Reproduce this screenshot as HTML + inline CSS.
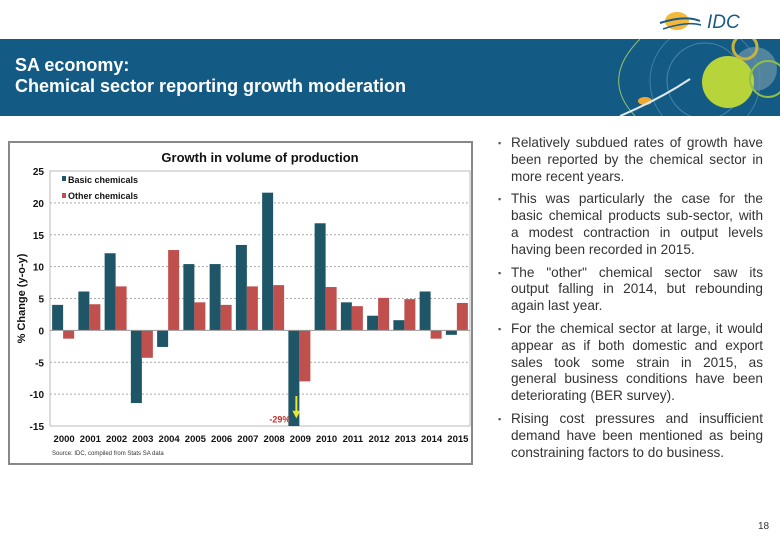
<!DOCTYPE html>
<html><head><meta charset="utf-8"><style>
body{margin:0;width:780px;height:540px;position:relative;background:#fff;font-family:"Liberation Sans",sans-serif;overflow:hidden}
#banner{position:absolute;left:0;top:39px;width:780px;height:77px;background:#135b84}
#title{position:absolute;left:15px;top:55px;color:#fff;font-weight:bold;font-size:18px;line-height:21px}
#bullets{position:absolute;left:494px;top:135px;width:269px;font-size:13.6px;line-height:16.8px;color:#333}
.b{position:relative;padding-left:17px;text-align:justify;margin-bottom:6px}
.b:before{content:"▪";position:absolute;left:4px;top:0;font-size:9px;color:#555}
#page{position:absolute;left:758px;top:521px;font-size:10px;color:#333}
</style></head><body>
<div id="banner">
<svg width="780" height="77">
<path d="M640 0 Q600 40 635 77" stroke="#8fc46b" stroke-width="1" fill="none"/>
<circle cx="705" cy="42" r="38" fill="none" stroke="#4d87a8" stroke-width="1"/>
<circle cx="705" cy="42" r="55" fill="none" stroke="#3e7fa2" stroke-width="1"/>
<circle cx="755" cy="30" r="22" fill="#6e95a8" opacity="0.7"/>
<circle cx="728" cy="43" r="26" fill="#b7d43b"/>
<circle cx="745" cy="8" r="12" fill="none" stroke="#c9b23a" stroke-width="3"/>
<circle cx="768" cy="40" r="18" fill="none" stroke="#8fbf4a" stroke-width="2"/>
<ellipse cx="645" cy="62" rx="7" ry="4" fill="#f0a830"/>
<path d="M620 77 Q660 60 690 40" stroke="#dfe9ef" stroke-width="2" fill="none"/>
</svg></div>
<div id="title">SA economy:<br>Chemical sector reporting growth moderation</div>
<svg style="position:absolute;left:655px;top:7px" width="95" height="30">
<ellipse cx="22" cy="14" rx="12" ry="9" fill="#f4b83a"/>
<path d="M5 16 Q30 8 45 14" stroke="#1a5a86" stroke-width="2" fill="none"/>
<path d="M8 22 Q32 14 46 18" stroke="#1a5a86" stroke-width="1.5" fill="none"/>
<text x="52" y="21" font-size="19" font-style="italic" fill="#1a5a86" font-family="Liberation Sans">IDC</text>
</svg>
<svg id="chart" style="position:absolute;left:0;top:0" width="480" height="470"></svg>
<div id="bullets">
<div class="b">Relatively subdued rates of growth have been reported by the chemical sector in more recent years.</div>
<div class="b">This was particularly the case for the basic chemical products sub-sector, with a modest contraction in output levels having been recorded in 2015.</div>
<div class="b">The "other" chemical sector saw its output falling in 2014, but rebounding again last year.</div>
<div class="b">For the chemical sector at large, it would appear as if both domestic and export sales took some strain in 2015, as general business conditions have been deteriorating (BER survey).</div>
<div class="b">Rising cost pressures and insufficient demand have been mentioned as being constraining factors to do business.</div>
</div>
<div id="page">18</div>
<script>
const years=["2000","2001","2002","2003","2004","2005","2006","2007","2008","2009","2010","2011","2012","2013","2014","2015"];
const basic=[4.0,6.1,12.1,-11.4,-2.6,10.4,10.4,13.4,21.6,-29,16.8,4.4,2.3,1.6,6.1,-0.7];
const other=[-1.3,4.1,6.9,-4.3,12.6,4.4,4.0,6.9,7.1,-8.0,6.8,3.8,5.1,4.9,-1.3,4.3];
const yTicks=[25,20,15,10,5,0,-5,-10,-15];
const NS="http://www.w3.org/2000/svg";
const svg=document.getElementById('chart');
const L=50,R=470,T=171,B=426,ymin=-15,ymax=25;
const y=v=>T+(ymax-Math.max(ymin,Math.min(ymax,v)))/(ymax-ymin)*(B-T);
const cw=(R-L)/years.length;
const x=i=>L+i*cw;
function mk(t,a,txt){const e=document.createElementNS(NS,t);for(const k in a)e.setAttribute(k,a[k]);if(txt!=null)e.textContent=txt;svg.appendChild(e);return e;}
let e;
e=mk('rect',{x:9,y:142,width:463,height:322,fill:'#fff',stroke:'#888','stroke-width':2});


e=mk('text',{x:260,y:162,'font-size':13,'font-weight':'bold','text-anchor':'middle',fill:'#111'},'Growth in volume of production');


yTicks.forEach(v=>{
 if(v!==0&&v!==-15){e=mk('line',{x1:L,x2:R,y1:y(v),y2:y(v),stroke:'#aaa','stroke-dasharray':'2,2'});}
 e=mk('text',{x:44,y:y(v)+4,'font-size':10,'font-weight':'bold','text-anchor':'end',fill:'#111'},String(v));
 
 
});
e=mk('rect',{x:L,y:T,width:R-L,height:B-T,fill:'none',stroke:'#bbb'});


years.forEach((yr,i)=>{
 const cx=x(i)+cw/2;
 const b=basic[i],o=other[i];
 e=mk('rect',{x:cx-11,y:Math.min(y(b),y(0)),width:11,height:Math.abs(y(b)-y(0)),fill:'#1e5668'});
 
 
 e=mk('rect',{x:cx,y:Math.min(y(o),y(0)),width:11,height:Math.abs(y(o)-y(0)),fill:'#c0504d'});
 
 
 e=mk('text',{x:cx+1,y:442,'font-size':9.5,'font-weight':'bold','text-anchor':'middle',fill:'#111'},yr);
 
 
});
e=mk('line',{x1:L,x2:R,y1:y(0),y2:y(0),stroke:'#999'});


e=mk('text',{x:0,y:0,'font-size':11,'font-weight':'bold','text-anchor':'middle',fill:'#111',transform:'translate(25,'+(y(5))+') rotate(-90)'},'% Change (y-o-y)');


e=mk('rect',{x:62,y:176,width:4,height:5,fill:'#1e5668'});
e=mk('text',{x:68,y:183,'font-size':9,'font-weight':'bold',fill:'#111'},'Basic chemicals');
e=mk('rect',{x:62,y:193,width:4,height:5,fill:'#c0504d'});
e=mk('text',{x:68,y:199,'font-size':9,'font-weight':'bold',fill:'#111'},'Other chemicals');
const ax=x(9)+cw/2-3;
e=mk('line',{x1:ax,x2:ax,y1:y(-10.3),y2:y(-13),stroke:'#e8e830','stroke-width':2});
e=mk('path',{d:`M${ax-4} ${y(-12.6)} L${ax+4} ${y(-12.6)} L${ax} ${y(-13.8)} Z`,fill:'#e8e830'});
e=mk('text',{x:ax-6,y:y(-13.8)+4,'font-size':9,'font-weight':'bold','text-anchor':'end',fill:'#c0302d'},basic[9]+'%');
e=mk('text',{x:52,y:455,'font-size':6,fill:'#333'},'Source: IDC, compiled from Stats SA data');
</script>
</body></html>
